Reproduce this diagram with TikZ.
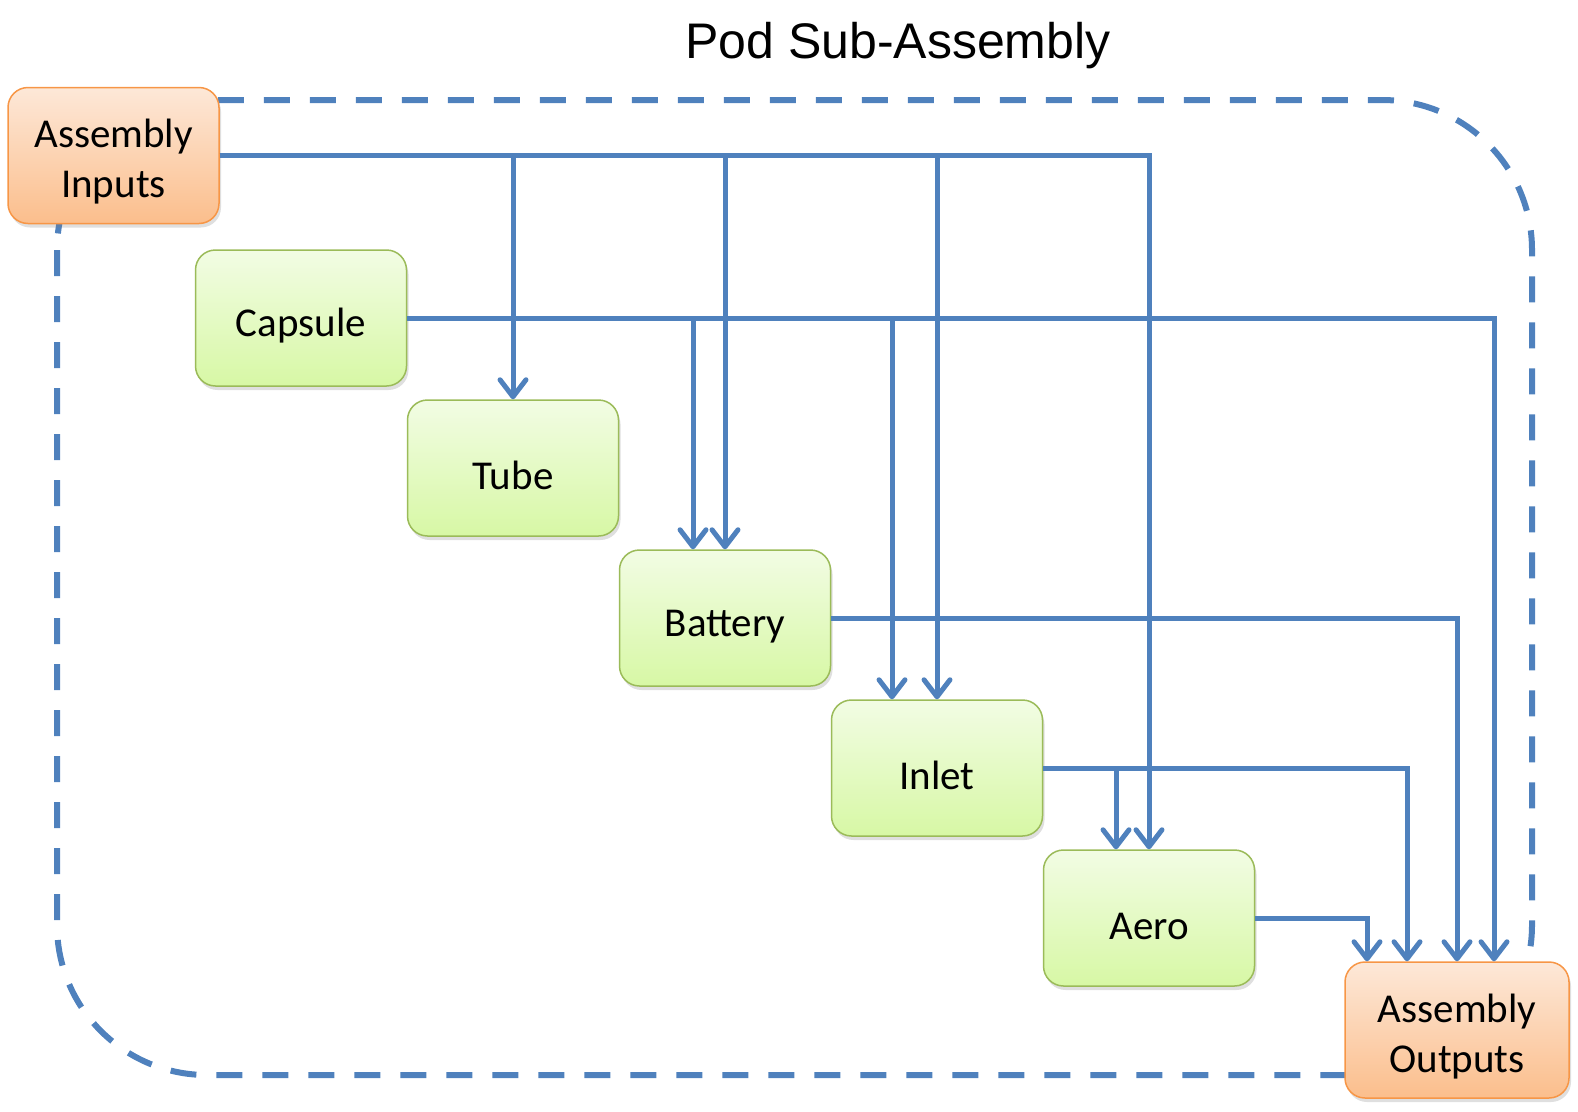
\documentclass[tikz,border=0pt]{standalone}
\usepackage{fontspec}
\setmainfont{Carlito}
\newfontfamily\titlefont{Liberation Sans}
\usetikzlibrary{arrows.meta,shadows}
\definecolor{lineblue}{RGB}{79,129,189}
\definecolor{gtop}{RGB}{242,252,228}
\definecolor{gbot}{RGB}{215,248,165}
\definecolor{gborder}{RGB}{155,187,89}
\definecolor{otop}{RGB}{253,232,216}
\definecolor{obot}{RGB}{251,190,140}
\definecolor{oborder}{RGB}{247,150,70}
\newcommand{\twolines}[2]{\begin{tabular}{@{}c@{}}\rule{0pt}{49pt}#1\\#2\end{tabular}}
\tikzset{
  basebox/.style={rounded corners=20pt, line width=1.5pt, align=center,
    font=\fontsize{41}{50}\selectfont, inner sep=0pt,
    drop shadow={opacity=0.25, shadow xshift=2pt, shadow yshift=-4pt}},
  greenbox/.style={basebox, draw=gborder, top color=gtop, bottom color=gbot,
    execute at begin node={\rule{0pt}{44pt}},
    minimum width=211pt, minimum height=136pt},
  orangebox/.style={basebox, draw=oborder, top color=otop, bottom color=obot,
    minimum height=136pt},
  conn/.style={draw=lineblue, line width=5pt,
    -{Straight Barb[length=17pt,width=26pt,round]}},
  border/.style={draw=lineblue, line width=6pt, dash pattern=on 26pt off 20pt,
    rounded corners=150pt}
}
\begin{document}
\begin{tikzpicture}[x=1pt,y=-1pt]
\useasboundingbox (0,0) rectangle (1578,1111);
\draw[border] (57,100) rectangle (1532,1075);
\node[font=\titlefont\fontsize{50}{60}\selectfont] (title) at (898,46) {Pod Sub-Assembly};
\node[orangebox, minimum width=211pt] (ai) at (113.5,155.5) {\twolines{Assembly}{Inputs}};
\node[greenbox] (cap) at (301,318) {Capsule};
\node[greenbox] (tube) at (513,468) {Tube};
\node[greenbox] (bat) at (725,618) {Battery};
\node[greenbox] (inlet) at (937,768) {Inlet};
\node[greenbox] (aero) at (1149,918) {Aero};
\node[orangebox, minimum width=224pt] (ao) at (1457,1030) {\twolines{Assembly}{Outputs}};
% from Assembly Inputs
\draw[conn] (ai.east) -| (tube.north);
\draw[conn] (ai.east) -| (bat.north);
\draw[conn] (ai.east) -| (inlet.north);
\draw[conn] (ai.east) -| (aero.north);
% from Capsule
\draw[conn] (cap.east) -| ([xshift=-32pt]bat.north);
\draw[conn] (cap.east) -| ([xshift=-45pt]inlet.north);
\draw[conn] (cap.east) -| ([xshift=37pt]ao.north);
% from Battery
\draw[conn] (bat.east) -| (ao.north);
% from Inlet
\draw[conn] (inlet.east) -| ([xshift=-33pt]aero.north);
\draw[conn] (inlet.east) -| ([xshift=-50pt]ao.north);
% from Aero
\draw[conn] (aero.east) -| ([xshift=-90pt]ao.north);
\end{tikzpicture}
\end{document}
